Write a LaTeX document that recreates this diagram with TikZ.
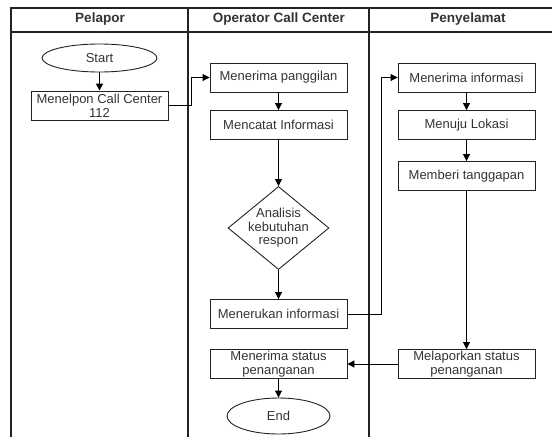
\documentclass[tikz,border=0pt]{standalone}
\usepackage{fontspec}
\setmainfont{Liberation Sans}
\usetikzlibrary{shapes.geometric,arrows.meta}
\definecolor{teks}{HTML}{333333}
\definecolor{garis}{HTML}{222222}

\begin{document}
\begin{tikzpicture}[x=1pt,y=-1pt,
  kotak/.style={draw=garis,line width=0.9pt,minimum width=137pt,minimum height=29pt,inner sep=0pt,align=center,text=teks,font=\fontsize{13}{14}\selectfont},
  bulat/.style={draw=garis,line width=0.9pt,ellipse,inner sep=0pt,text=teks,font=\fontsize{13}{14}\selectfont},
  pilih/.style={draw=garis,line width=0.9pt,diamond,minimum width=101pt,minimum height=83pt,inner sep=-10pt,align=center,text=teks,font=\fontsize{13}{13.5}\selectfont},
  judul/.style={text=teks,font=\fontsize{13.5}{14}\selectfont\bfseries},
  panah/.style={draw=black,line width=0.9pt,-{Triangle[length=7pt,width=7pt]}},
  batas/.style={draw=garis,line width=1.1pt}]

	\useasboundingbox (0,0) rectangle (552,437);

  %kolom (swimlane)
	\draw[batas] (552,8) -- (11,8) -- (11,437);
	\draw[batas] (11,32) -- (552,32);
	\draw[batas] (188,8) -- (188,437);
	\draw[batas] (369,8) -- (369,437);
	\node[judul] (hpelapor) at (100,19.5) {Pelapor};
	\node[judul] (hoperator) at (279,19.5) {Operator Call Center};
	\node[judul] (hpenyelamat) at (468,19.5) {Penyelamat};

  %pelapor
	\node[bulat,minimum width=115pt,minimum height=28pt] (start) at (99.5,58) {Start};
	\node[kotak] (telepon) at (99.5,105.5) {Menelpon Call Center\\112};

  %operator call center
	\node[kotak] (terima) at (278.5,77.5) {Menerima panggilan};
	\node[kotak] (catat) at (278.5,125) {Mencatat Informasi};
	\node[pilih] (analisis) at (278.5,228) {Analisis\\kebutuhan\\respon};
	\node[kotak] (teruskan) at (278.5,314) {Menerukan informasi};
	\node[kotak] (status) at (278.5,364) {Menerima status\\penanganan};
	\node[bulat,minimum width=103pt,minimum height=36pt] (end) at (278.5,416) {End};

  %penyelamat
	\node[kotak] (info) at (466.5,77.5) {Menerima informasi};
	\node[kotak] (lokasi) at (466.5,125) {Menuju Lokasi};
	\node[kotak] (tanggap) at (466.5,176) {Memberi tanggapan};
	\node[kotak] (lapor) at (466.5,364) {Melaporkan status\\penanganan};

  %titik belok
	\coordinate (belok1) at (191,0);
	\coordinate (belok2) at (381,0);

  %panah
	\draw[panah,line width=1.6pt] (start) -- (telepon);
	\draw[panah] (telepon.east) -- (telepon.east -| belok1) |- (terima.west);
	\draw[panah] (terima) -- (catat);
	\draw[panah] (catat) -- (analisis);
	\draw[panah] (analisis) -- (teruskan);
	\draw[panah] (teruskan.east) -- (teruskan.east -| belok2) |- (info.west);
	\draw[panah] (info) -- (lokasi);
	\draw[panah] (lokasi) -- (tanggap);
	\draw[panah] (tanggap) -- (lapor);
	\draw[panah] (lapor) -- (status);
	\draw[panah] (status) -- (end);

\end{tikzpicture}
\end{document}
